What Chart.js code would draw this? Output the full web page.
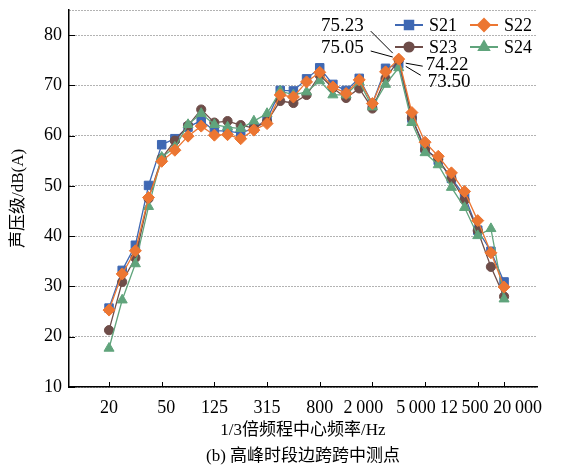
<!DOCTYPE html>
<html>
<head>
<meta charset="utf-8">
<script src="https://cdn.jsdelivr.net/npm/chart.js@4/dist/chart.umd.min.js"></script>
<style>
    body { margin: 0; background: #fff; }
    canvas { display: block; }
</style>
</head>
<body>
<canvas id="spl" width="561" height="467"></canvas>
<script>
// 1/3 octave bands (Hz)
const bands = ['20', '25', '31.5', '40', '50', '63', '80', '100', '125', '160', '200', '250', '315', '400', '500', '630',
    '800', '1000', '1250', '1600', '2000', '2500', '3150', '4000', '5000', '6300', '8000', '10000', '12500', '16000', '20000'];

const tickBands = ['20', '50', '125', '315', '800', '2000', '5000', '12500', '20000'];
const tickLabels = ['20', '50', '125', '315', '800', '2\u2009000', '5\u2009000', '12\u2009500', '20\u2009000'];

const seriesNames = ['S21', 'S22', 'S23', 'S24'];

const s21 = [25.7, 33.2, 38.2, 50.1, 58.2, 59.4, 61.7, 63.0, 61.0, 60.9, 60.5, 61.5, 63.2, 69.0, 68.9, 71.3,
    73.5, 70.2, 69.0, 71.4, 66.4, 73.4, 74.22, 63.5, 57.5, 55.1, 51.5, 48.1, 41.2, 37.0, 30.9];
const s22 = [25.3, 32.5, 37.1, 47.7, 54.9, 57.1, 59.9, 61.9, 60.1, 60.2, 59.4, 61.1, 62.4, 68.1, 67.7, 70.7,
    72.6, 69.7, 68.4, 71.1, 66.4, 72.7, 75.23, 64.6, 58.7, 55.9, 52.6, 48.9, 43.1, 36.7, 29.9];
const s23 = [21.3, 30.9, 35.7, 47.5, 55.5, 59.0, 62.0, 65.2, 62.6, 62.9, 62.1, 61.5, 62.8, 66.9, 66.5, 68.1,
    72.0, 69.5, 67.5, 69.4, 65.4, 71.4, 75.05, 63.5, 57.2, 55.3, 51.4, 47.2, 41.1, 33.9, 28.0];
const s24 = [17.7, 27.3, 34.5, 45.9, 55.7, 57.7, 62.2, 64.4, 62.2, 61.7, 61.4, 62.9, 64.4, 68.9, 68.1, 68.7,
    70.9, 68.1, 68.1, 70.7, 65.7, 70.2, 73.50, 62.6, 56.6, 54.2, 49.7, 45.7, 40.1, 41.5, 27.5];

const peakBand = '3150';

// ------------------------------------
const serif = '"Liberation Serif", "Noto Sans CJK SC", serif';
Chart.defaults.font.family = serif;
Chart.defaults.color = '#000';

const colors = ['#3f68b3', '#ec7632', '#6e4d49', '#60a47c'];
const styles = ['rect', 'rectRot', 'circle', 'triangle'];
const radii = [6, 6, 4.6, 5.8];
const drawOrder = [3, 0, 2, 1];

const tickIdx = tickBands.map(b => bands.indexOf(b));
const labelShift = [0, 1, 0, 0, 0, -2, -2, -3, 3];   // in en spaces
const peakIdx = bands.indexOf(peakBand);

// label placement around the peak, relative to the point (px)
const peakLabels = [
    { ds: 1, align: 'right', tx: -35, ty: -33, l: [-28, -28, -6, -6] },
    { ds: 2, align: 'right', tx: -35, ty: -12, l: [-28, -9, -6, -3] },
    { ds: 0, align: 'left', tx: 27, ty: 1, l: [7, -1, 24, 2] },
    { ds: 3, align: 'left', tx: 29, ty: 14, l: [7, -1.5, 22, 7.5] }
];

const all = [s21, s22, s23, s24];

const datasets = all.map((vals, i) => ({
    label: seriesNames[i],
    data: vals.map((v, k) => ({ x: k, y: v })),
    borderColor: colors[i],
    backgroundColor: colors[i],
    borderWidth: 1.3,
    pointStyle: styles[i],
    pointRadius: radii[i],
    pointBorderWidth: 1,
    tension: 0,
    order: drawOrder[i]
}));

const pad = n => '\u2002'.repeat(Math.abs(n));

// inside tick marks, legend box and peak labels
const decorPlugin = {
    id: 'decor',
    afterDraw(chart) {
        const ctx = chart.ctx;
        const xs = chart.scales.x, ys = chart.scales.y;
        const area = chart.chartArea;
        ctx.save();
        ctx.strokeStyle = '#000';
        ctx.lineWidth = 1;
        ctx.beginPath();
        xs.ticks.forEach(t => {
            const px = Math.round(xs.getPixelForValue(t.value)) + 0.5;
            ctx.moveTo(px, area.bottom);
            ctx.lineTo(px, area.bottom - 5);
        });
        ys.ticks.forEach(t => {
            if (t.value % 10 !== 0) return;
            const py = Math.round(ys.getPixelForValue(t.value)) + 0.5;
            ctx.moveTo(area.left, py);
            ctx.lineTo(area.left + 6, py);
        });
        ctx.stroke();

        // legend
        ctx.font = '18px ' + serif;
        ctx.textBaseline = 'middle';
        ctx.textAlign = 'left';
        chart.data.datasets.forEach((ds, i) => {
            const x0 = area.right - 142 + (i % 2) * 75;
            const y0 = area.top + 15 + Math.floor(i / 2) * 22;
            ctx.strokeStyle = ds.borderColor;
            ctx.lineWidth = 2;
            ctx.beginPath();
            ctx.moveTo(x0, y0);
            ctx.lineTo(x0 + 28, y0);
            ctx.stroke();
            ctx.fillStyle = ds.backgroundColor;
            Chart.helpers.drawPoint(ctx, {
                pointStyle: ds.pointStyle, radius: ds.pointRadius, rotation: 0, borderWidth: 1
            }, x0 + 14, y0);
            ctx.fillStyle = '#000';
            ctx.fillText(ds.label, x0 + 34, y0 + 1);
        });

        // peak values
        ctx.font = '19px ' + serif;
        ctx.strokeStyle = '#000';
        ctx.lineWidth = 1;
        peakLabels.forEach(p => {
            const v = all[p.ds][peakIdx];
            const px = xs.getPixelForValue(peakIdx);
            const py = ys.getPixelForValue(v);
            ctx.beginPath();
            ctx.moveTo(px + p.l[0], py + p.l[1]);
            ctx.lineTo(px + p.l[2], py + p.l[3]);
            ctx.stroke();
            ctx.textAlign = p.align;
            ctx.fillText(v.toFixed(2), px + p.tx, py + p.ty);
        });
        ctx.restore();
    }
};

new Chart(document.getElementById('spl'), {
    type: 'line',
    data: { datasets: datasets },
    plugins: [decorPlugin],
    options: {
        responsive: false,
        animation: false,
        layout: { padding: { left: 0, right: 24, top: 10, bottom: 0 } },
        plugins: {
            legend: { display: false },
            tooltip: { enabled: false },
            title: {
                display: true,
                position: 'bottom',
                fullSize: false,
                text: '(b) 高峰时段边跨跨中测点',
                font: { size: 17, weight: 'normal' },
                padding: { top: 6, bottom: 0 }
            }
        },
        scales: {
            x: {
                type: 'linear',
                min: -3.04,
                max: 32.5,
                afterBuildTicks: scale => {
                    scale.ticks = tickIdx.map(v => ({ value: v }));
                },
                afterFit: scale => {
                    scale.height = 53.6;
                    scale.paddingLeft = 0;
                    scale.paddingRight = 0;
                },
                ticks: {
                    autoSkip: false,
                    maxRotation: 0,
                    padding: 10,
                    font: { size: 18 },
                    callback: value => {
                        const k = tickIdx.indexOf(value);
                        if (k < 0) return '';
                        const s = labelShift[k];
                        return s > 0 ? pad(s) + tickLabels[k] : tickLabels[k] + pad(s);
                    }
                },
                grid: { display: false, drawTicks: false },
                border: { display: true, color: '#000', width: 1.5 },
                title: {
                    display: true,
                    text: '1/3倍频程中心频率/Hz',
                    font: { size: 17 },
                    padding: { top: 0, bottom: 0 }
                }
            },
            y: {
                min: 10,
                max: 85,
                afterFit: scale => {
                    scale.width = 69;
                    scale.paddingTop = 0;
                    scale.paddingBottom = 0;
                },
                ticks: {
                    stepSize: 10,
                    padding: 7,
                    font: { size: 18 },
                    callback: v => (v % 10 === 0 ? v : '')
                },
                grid: { color: '#666', lineWidth: 1, drawTicks: false },
                border: { display: true, color: '#000', width: 1.5, dash: [1, 2] },
                title: {
                    display: true,
                    text: '声压级/dB(A)',
                    font: { size: 17 },
                    padding: { top: 8, bottom: 0 }
                }
            }
        }
    }
});
</script>
</body>
</html>
